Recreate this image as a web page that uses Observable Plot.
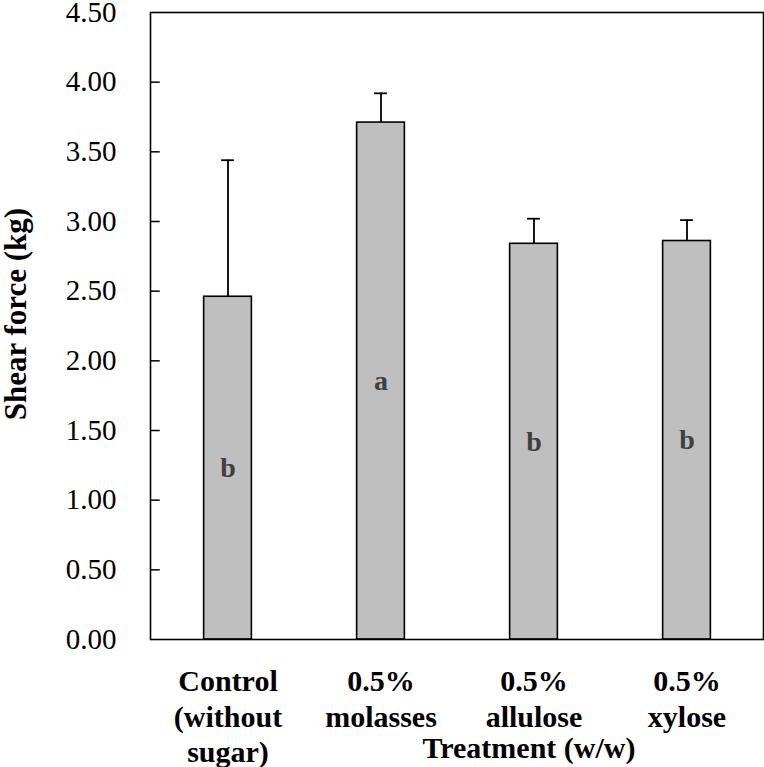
<!DOCTYPE html>
<html>
<head>
<meta charset="utf-8">
<script src="https://cdn.jsdelivr.net/npm/d3@7"></script>
<script src="https://cdn.jsdelivr.net/npm/@observablehq/plot@0.6"></script>
<style>
  html, body { margin: 0; padding: 0; background: #fff; }
  #chart svg { display: block; }
</style>
</head>
<body>
<div id="chart"></div>
<script>
const categories = ["Control\n(without\nsugar)", "0.5%\nmolasses", "0.5%\nallulose", "0.5%\nxylose"];
const values = [2.46, 3.71, 2.84, 2.86];
const errors = [0.98, 0.21, 0.18, 0.15];
const letters = ["b", "a", "b", "b"];
const yTicks = [0, 0.5, 1.0, 1.5, 2.0, 2.5, 3.0, 3.5, 4.0, 4.5];
const yTitle = "Shear force (kg)";
const xTitle = "Treatment (w/w)";

const data = categories.map((c, i) => ({cat: c, value: values[i], err: errors[i], letter: letters[i]}));

const W = 764, H = 767;
const mL = 150, mR = 1, mT = 12, mB = 128;
const step = (W - mL - mR) / categories.length;
const barW = 48, capW = 13, tickLen = 9;
const serif = "Liberation Serif";

const chart = Plot.plot({
  width: W,
  height: H,
  marginLeft: mL,
  marginRight: mR,
  marginTop: mT,
  marginBottom: mB,
  style: {fontFamily: serif, fontSize: "29px"},
  x: {domain: categories, padding: 0, label: null},
  y: {domain: [0, 4.5], label: null},
  marks: [
    Plot.barY(data, {x: "cat", y: "value", fill: "#bfbfbf", stroke: "#000", strokeWidth: 1.6,
      insetLeft: (step - barW) / 2, insetRight: (step - barW) / 2}),
    Plot.ruleX(data, {x: "cat", y1: "value", y2: d => d.value + d.err, stroke: "#000", strokeWidth: 1.8}),
    Plot.tickY(data, {x: "cat", y: d => d.value + d.err, stroke: "#000", strokeWidth: 1.8,
      insetLeft: (step - capW) / 2, insetRight: (step - capW) / 2}),
    Plot.text(data, {x: "cat", y: d => d.value / 2, text: "letter", fill: "#404040",
      fontWeight: "bold", fontSize: 28, fontFamily: serif}),
    Plot.tickY(yTicks.slice(1, -1), {y: d => d, x: () => categories[0], stroke: "#000", strokeWidth: 1.5,
      insetLeft: 0, insetRight: step - tickLen}),
    Plot.axisY({ticks: yTicks, tickFormat: d3.format(".2f"), tickSize: 0, tickPadding: 34, fontSize: 29, fontFamily: serif, label: null}),
    Plot.axisX({tickSize: 0, tickPadding: 27, fontSize: 30, fontWeight: "bold", lineHeight: 1.17, fontFamily: serif, label: null}),
    Plot.text([xTitle], {x: () => categories[2], frameAnchor: "bottom", text: d => d, dx: -5, dy: 97,
      lineAnchor: "top", fontSize: 30, fontWeight: "bold", fill: "#000", fontFamily: serif}),
    Plot.text([yTitle], {frameAnchor: "left", text: d => d, dx: -134, dy: -12, rotate: -90,
      textAnchor: "middle", lineAnchor: "middle", fontSize: 31, fontWeight: "bold", fill: "#000", fontFamily: serif}),
    Plot.frame({stroke: "#000", strokeWidth: 1.6})
  ]
});
chart.setAttribute("font-family", "Liberation Serif, serif");
chart.querySelectorAll("g, text, tspan").forEach(el => {
  el.setAttribute("font-family", "Liberation Serif");
  if (el.tagName !== "g") el.setAttribute("style", "font-family:'Liberation Serif'");
});
document.getElementById("chart").appendChild(chart);
</script>
</body>
</html>
